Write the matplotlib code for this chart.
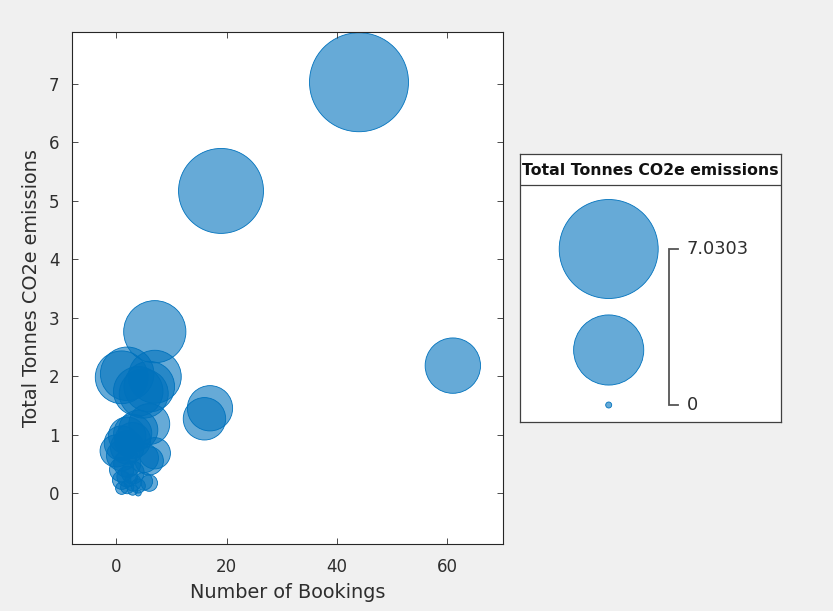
import numpy as np
import matplotlib
matplotlib.use("Agg")
import matplotlib.pyplot as plt

# Bookings vs. total emissions per group
bookings = [44, 19, 61, 7, 17, 16,
            1, 2, 7, 6, 4, 5,
            6, 4, 3, 2, 5, 1, 0, 1, 2, 3, 7, 6, 2, 1, 3, 2, 1, 3, 6, 4, 2, 1, 3, 4, 5]
emissions = [7.0303, 5.17, 2.18, 2.76, 1.45, 1.27,
             1.98, 2.04, 1.99, 1.82, 1.74, 1.70,
             1.18, 1.08, 1.02, 0.98, 0.60, 0.85, 0.72, 0.64, 0.78, 0.90, 0.68, 0.55,
             0.50, 0.40, 0.35, 0.28, 0.22, 0.18, 0.17, 0.12, 0.10, 0.08, 0.05, 0.0, 0.20]

x_ticks = [0, 20, 40, 60]
y_ticks = [0, 1, 2, 3, 4, 5, 6, 7]

BLUE = (0.0, 0.447, 0.741)
TEXT = "#2e2e2e"
DPI = 100
W, H = 833, 611

plt.rcParams["font.family"] = ["DejaVu Sans"]

# bubble diameter range in pixels; area grows linearly with the value
D_MIN, D_MAX = 6.0, 99.0
vals = np.asarray(emissions, dtype=float)
vmin, vmax = vals.min(), vals.max()


def bubble_area(v):
    v = np.asarray(v, dtype=float)
    d2 = D_MIN ** 2 + (D_MAX ** 2 - D_MIN ** 2) * (v - vmin) / (vmax - vmin)
    return d2 * (72.0 / DPI) ** 2  # points^2


fig = plt.figure(figsize=(W / DPI, H / DPI), dpi=DPI, facecolor="#F0F0F0")

ax = fig.add_axes([72 / W, 1 - 544 / H, (502.5 - 72) / W, (544 - 32) / H])
ax.scatter(bookings, emissions, s=bubble_area(emissions),
           facecolor=(*BLUE, 0.6), edgecolor=BLUE, linewidth=0.6)
ax.set_xlim(-8, 70)
ax.set_ylim(-0.873, 7.89)
ax.set_xticks(x_ticks)
ax.set_yticks(y_ticks)
ax.tick_params(direction="in", top=True, right=True, length=4.5, width=0.6,
               colors=TEXT, labelsize=12)
ax.tick_params(axis="x", pad=10)
ax.tick_params(axis="y", pad=9)
for sp in ax.spines.values():
    sp.set_color("#262626")
    sp.set_linewidth(0.8)
ax.set_xlabel("Number of Bookings", fontsize=13.9, color=TEXT, labelpad=5)
ax.set_ylabel("Total Tonnes CO2e emissions", fontsize=13.9, color=TEXT, labelpad=6)

# bubble size legend, laid out in pixel units
lx0, ly0, lx1, ly1 = 520, 154, 781, 422
lg = fig.add_axes([lx0 / W, 1 - ly1 / H, (lx1 - lx0) / W, (ly1 - ly0) / H])
lg.set_xlim(0, lx1 - lx0)
lg.set_ylim(ly1 - ly0, 0)
lg.set_xticks([])
lg.set_yticks([])
lg.set_facecolor("white")
for sp in lg.spines.values():
    sp.set_color("#404040")
    sp.set_linewidth(0.9)
lg.axhline(30.5, color="#404040", linewidth=0.9)
lg.text((lx1 - lx0) / 2, 16.5, "Total Tonnes CO2e emissions", ha="center", va="center",
        fontsize=11.3, fontweight="bold", color="#111111")

leg_vals = [vmax, (vmax + vmin) / 2, vmin]
leg_y = [95, 196, 251]
lg.scatter([88.7] * 3, leg_y, s=bubble_area(leg_vals),
           facecolor=(*BLUE, 0.6), edgecolor=BLUE, linewidth=0.6, clip_on=False)
bx = 148.5
lg.plot([bx + 9, bx, bx, bx + 9], [leg_y[0], leg_y[0], leg_y[2], leg_y[2]],
        color="#555555", linewidth=1.3, solid_joinstyle="miter")
lg.text(bx + 18, leg_y[0], f"{vmax:.5g}", ha="left", va="center", fontsize=12.8, color=TEXT)
lg.text(bx + 18, leg_y[2], f"{vmin:.5g}", ha="left", va="center", fontsize=12.8, color=TEXT)

fig.savefig("out.png", dpi=DPI, facecolor=fig.get_facecolor())
